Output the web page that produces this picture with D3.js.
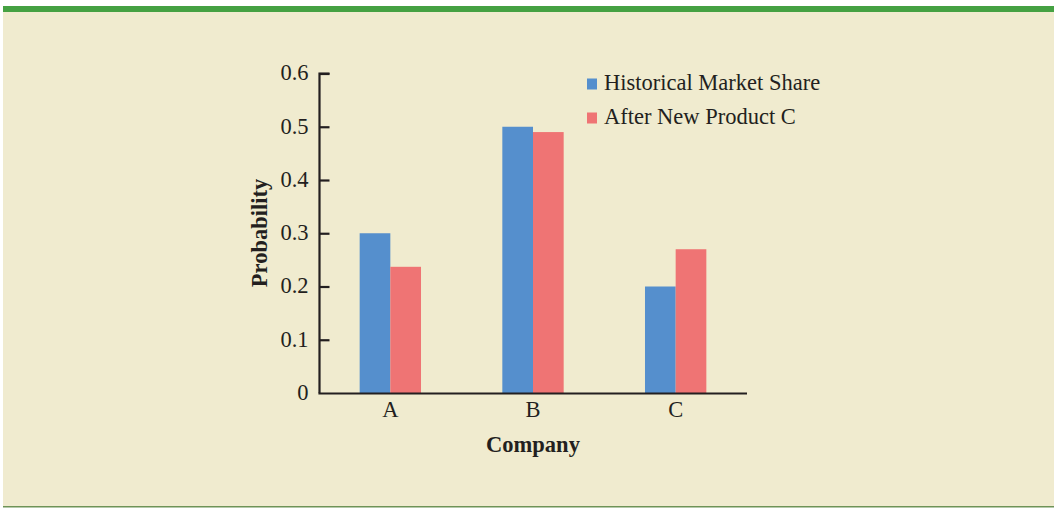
<!DOCTYPE html>
<html><head><meta charset="utf-8">
<script src="https://cdn.jsdelivr.net/npm/d3@7"></script>
<style>
html,body{margin:0;padding:0;background:#ffffff;}
svg{display:block;font-family:"Liberation Serif","Times New Roman",serif;}
</style></head>
<body>
<svg id="chart" width="1054" height="508"></svg>
<script>
const categories = ["A", "B", "C"];
const seriesNames = ["Historical Market Share", "After New Product C"];
const historical = [0.30, 0.50, 0.20];
const afterNewC = [0.237, 0.49, 0.27];
const yTicks = [0, 0.1, 0.2, 0.3, 0.4, 0.5, 0.6];
const yTickLabels = ["0", "0.1", "0.2", "0.3", "0.4", "0.5", "0.6"];
const colors = ["#558fcd", "#ef7474"];

const svg = d3.select("#chart");
const textColor = "#231f20";
const fs = "22.5px";

// background panel
svg.append("rect").attr("x", 3).attr("y", 6).attr("width", 1051).attr("height", 501).attr("fill", "#f0ebcf");
svg.append("rect").attr("x", 3).attr("y", 6).attr("width", 1051).attr("height", 6).attr("fill", "#45a142");
svg.append("rect").attr("x", 3).attr("y", 506).attr("width", 1051).attr("height", 1.5).attr("fill", "#6e9357");

const x0 = d3.scaleBand().domain(categories).range([319, 747]).paddingInner(0.57).paddingOuter(0.285);
const x1 = d3.scaleBand().domain(seriesNames).range([0, x0.bandwidth()]);
const y = d3.scaleLinear().domain([0, 0.6]).range([393, 73.5]);

const data = categories.map((c, i) => ({cat: c, vals: [historical[i], afterNewC[i]]}));

// bars
const g = svg.append("g");
data.forEach(d => {
  d.vals.forEach((v, j) => {
    g.append("rect")
      .attr("x", x0(d.cat) + x1(seriesNames[j]))
      .attr("y", y(v))
      .attr("width", x1.bandwidth())
      .attr("height", y(0) - y(v))
      .attr("fill", colors[j]);
  });
});

// y axis
const yAxis = d3.axisRight(y).tickValues(yTicks).tickSize(10).tickFormat((d, i) => yTickLabels[i]);
const ya = svg.append("g").attr("transform", "translate(319.5,0)").call(yAxis);
ya.select(".domain").attr("stroke", textColor).attr("stroke-width", 2.2).attr("d", "M10,73.5H0V393");
ya.selectAll(".tick line").attr("stroke", textColor).attr("stroke-width", 2.2);
ya.selectAll(".tick text").attr("x", -11).attr("dy", "0.28em").attr("text-anchor", "end")
  .attr("fill", textColor).style("font-size", fs).style("font-family", "Liberation Serif");
ya.selectAll(".tick line").filter((d) => d === 0).remove();

// x axis
const xAxis = d3.axisBottom(x0).tickSize(0).tickPadding(0);
const xa = svg.append("g").attr("transform", "translate(0,393.5)").call(xAxis);
xa.select(".domain").attr("stroke", textColor).attr("stroke-width", 2.2).attr("d", "M318.4,0H747");
xa.selectAll(".tick text").attr("y", 23.5).attr("dy", 0).attr("fill", textColor)
  .style("font-size", fs).style("font-family", "Liberation Serif");

// axis titles
svg.append("text").attr("x", 533).attr("y", 452).attr("text-anchor", "middle")
  .attr("fill", textColor).style("font-size", fs).style("font-weight", "bold").text("Company");
svg.append("text").attr("transform", "translate(266.5,233) rotate(-90)").attr("text-anchor", "middle")
  .attr("fill", textColor).style("font-size", fs).style("font-weight", "bold").text("Probability");

// legend
const legend = svg.append("g");
seriesNames.forEach((s, j) => {
  const ly = 90 + j * 34;
  legend.append("rect").attr("x", 587).attr("y", ly - 11.5).attr("width", 10).attr("height", 11).attr("fill", colors[j]);
  legend.append("text").attr("x", 604).attr("y", ly).attr("fill", textColor).style("font-size", fs).text(s);
});
</script>
</body></html>
